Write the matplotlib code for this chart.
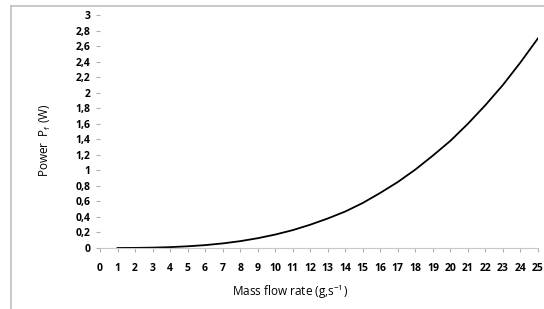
import numpy as np
from matplotlib import pyplot as plt
from matplotlib.lines import Line2D

# mass flow rate (g/s) and power (W)
mass_flow = [1, 2, 3, 4, 5, 6, 7, 8, 9, 10, 11, 12, 13, 14, 15, 16, 17, 18, 19, 20, 21, 22, 23, 24, 25]
power = [0.0002, 0.0014, 0.0047, 0.011, 0.022, 0.037, 0.059, 0.088, 0.126, 0.173, 0.23, 0.30, 0.38,
         0.47, 0.58, 0.71, 0.85, 1.01, 1.19, 1.38, 1.60, 1.84, 2.10, 2.39, 2.70]
xticks = list(range(0, 26))
yticks = [0, 0.2, 0.4, 0.6, 0.8, 1, 1.2, 1.4, 1.6, 1.8, 2, 2.2, 2.4, 2.6, 2.8, 3]

plt.rcParams['font.family'] = ['Open Sans', 'DejaVu Sans']
plt.rcParams['mathtext.fontset'] = 'custom'
plt.rcParams['mathtext.rm'] = 'Open Sans'

fig = plt.figure(figsize=(5.44, 3.09), dpi=100)
W, H = 544, 309
ax = fig.add_axes([100 / W, (H - 248) / H, 438 / W, 233 / H])

ax.plot(mass_flow, power, color='black', lw=1.3)

ax.set_xlim(0, 25)
ax.set_ylim(0, 3)
ax.set_xticks(xticks)
ax.set_yticks(yticks)
ax.set_yticklabels([f'{v:g}'.replace('.', ',') for v in yticks], fontsize=7.5, fontweight='bold')
ax.set_xticklabels([str(v) for v in xticks], fontsize=7.5, fontweight='bold')

for s in ['top', 'right', 'left']:
    ax.spines[s].set_visible(False)
ax.spines['bottom'].set_color('#c8c8c8')
ax.tick_params(axis='both', colors='#b0b0b0', length=3, labelcolor='black')
ax.tick_params(axis='x', pad=8)
ax.tick_params(axis='y', pad=4)

fig.text(45 / W, 1 - 140 / H, 'Power  P$_\\mathrm{f}$ (W)', rotation=90, ha='center', va='center', fontsize=8.5)
fig.text(290 / W, 1 - 292 / H, 'Mass flow rate (g,s$^{\\mathrm{-1}}$)', ha='center', va='center', fontsize=8.5)

# chart frame (top and left edges)
fig.add_artist(Line2D([11 / W, 1], [1 - 6 / H, 1 - 6 / H], color='#c0c0c0', lw=1.2))
fig.add_artist(Line2D([11 / W, 11 / W], [0, 1 - 6 / H], color='#c0c0c0', lw=1.2))

fig.savefig('out.png', dpi=100)
